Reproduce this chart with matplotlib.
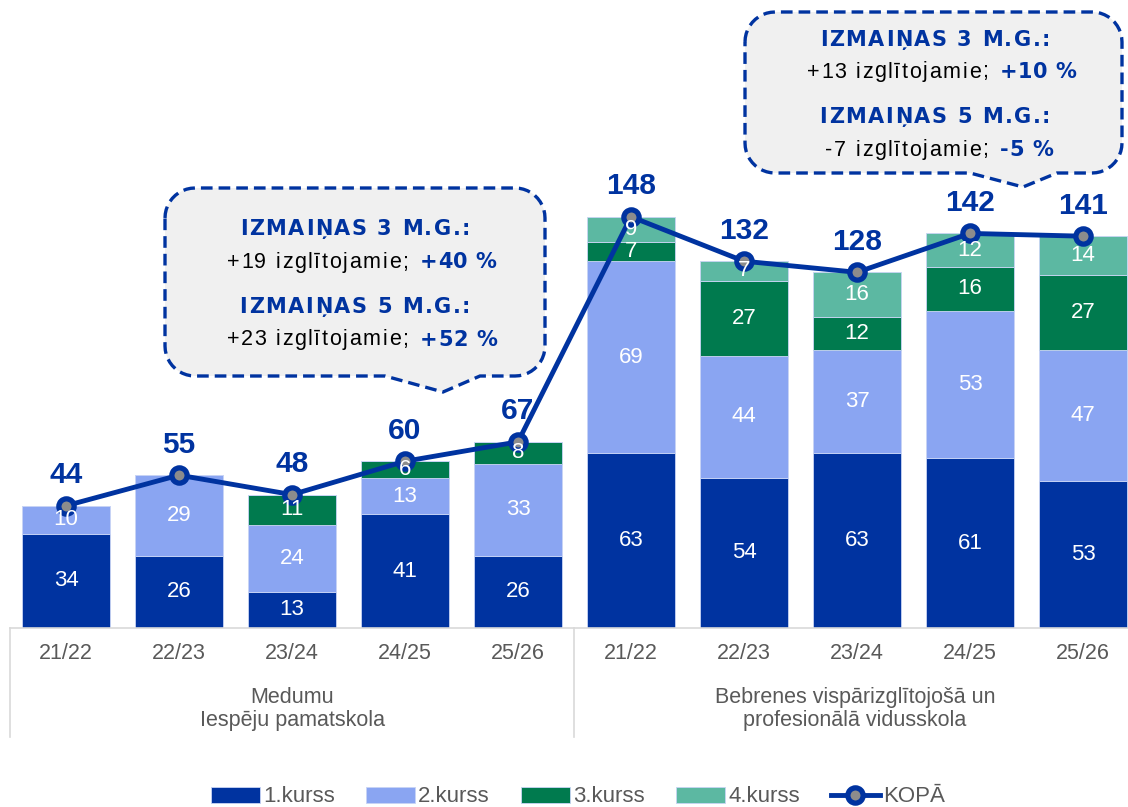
import matplotlib
matplotlib.use("Agg")
import matplotlib.pyplot as plt
import numpy as np
from matplotlib.path import Path
from matplotlib.patches import PathPatch
from matplotlib.lines import Line2D

# data
years = ["21/22", "22/23", "23/24", "24/25", "25/26"] * 2
schools = ["Medumu\nIespēju pamatskola", "Bebrenes vispārizglītojošā un\nprofesionālā vidusskola"]
kurss1 = [34, 26, 13, 41, 26, 63, 54, 63, 61, 53]
kurss2 = [10, 29, 24, 13, 33, 69, 44, 37, 53, 47]
kurss3 = [0, 0, 11, 6, 8, 7, 27, 12, 16, 27]
kurss4 = [0, 0, 0, 0, 0, 9, 7, 16, 12, 14]
kopa = [44, 55, 48, 60, 67, 148, 132, 128, 142, 141]
series_names = ["1.kurss", "2.kurss", "3.kurss", "4.kurss"]
colors = ["#0033A0", "#8AA5F2", "#007A4E", "#5CB8A2"]
line_col = "#0033A0"

W, H = 1128, 807
fig = plt.figure(figsize=(W / 100, H / 100), dpi=100)
renderer = fig.canvas.get_renderer()

def fx(px):
    return px / W

def fy(py):
    return 1 - py / H

ax = fig.add_axes([fx(9.5), fy(628), 1130 / W, 628 / H])
x = np.arange(len(years))
bw = 0.77
bottom = np.zeros(len(years))
for vals, name, c in zip([kurss1, kurss2, kurss3, kurss4], series_names, colors):
    vals = np.array(vals)
    ax.bar(x, vals, bw, bottom=bottom, color=c, edgecolor="#C8D4F5", linewidth=0.6, label=name, zorder=2)
    for xi, v, b in zip(x, vals, bottom):
        if v > 0:
            # labels sit on top of the line, like the original
            ax.text(xi, b + v / 2, str(v), ha="center", va="center", color="white", fontsize=16,
                    family="Liberation Sans", zorder=6)
    bottom += vals

ax.plot(x, kopa, color=line_col, lw=3.5, marker="o", markersize=11, markerfacecolor="#8C8C8C",
        markeredgecolor=line_col, markeredgewidth=3.8, zorder=4, label="KOPĀ")
for xi, v in zip(x, kopa):
    ax.annotate(str(v), (xi, v), xytext=(0, 12), textcoords="offset points", ha="center", va="bottom",
                color=line_col, fontsize=21.5, fontweight="bold", family="Liberation Sans", zorder=5)

ax.set_xlim(-0.5, 9.5)
ax.set_ylim(0, 226)
ax.set_yticks([])
ax.set_xticks(x)
ax.set_xticklabels(years, fontsize=15.5, color="#595959", family="Liberation Sans")
ax.tick_params(axis="x", length=0, pad=11)
for s in ["top", "right", "left"]:
    ax.spines[s].set_visible(False)
ax.spines["bottom"].set_color("#D9D9D9")
ax.spines["bottom"].set_linewidth(1.2)

# group separators
for px in [10, 574]:
    fig.add_artist(Line2D([fx(px), fx(px)], [fy(628), fy(737)], color="#D9D9D9", lw=1.2))
fig.text(fx(292), fy(709), schools[0], ha="center", va="center", fontsize=15.5, color="#595959",
         family="Liberation Sans", linespacing=1.15)
fig.text(fx(855), fy(709), schools[1], ha="center", va="center", fontsize=15.5, color="#595959",
         family="Liberation Sans", linespacing=1.15)

# callout boxes
def callout(x0, y0, x1, y1, r, pl, tip, pr):
    pts = []
    def arc(cx, cy, a0, a1):
        for a in np.linspace(a0, a1, 12):
            pts.append((cx + r * np.cos(a), cy + r * np.sin(a)))
    arc(x0 + r, y0 + r, np.pi, 1.5 * np.pi)
    arc(x1 - r, y0 + r, 1.5 * np.pi, 2 * np.pi)
    arc(x1 - r, y1 - r, 0, 0.5 * np.pi)
    pts.append((pr, y1))
    pts.append(tip)
    pts.append((pl, y1))
    arc(x0 + r, y1 - r, 0.5 * np.pi, np.pi)
    pts.append(pts[0])
    verts = [(fx(a), fy(b)) for a, b in pts]
    p = PathPatch(Path(verts), transform=fig.transFigure, facecolor="#F0F0F0", edgecolor="#0033A0",
                  lw=2.4, linestyle=(0, (3.5, 1.8)), zorder=10)
    fig.add_artist(p)

def width_of(s, **kw):
    t = fig.text(0, 0, s, **kw)
    w = t.get_window_extent(renderer).width
    t.remove()
    return w

def spaced(xp, yp, s, ha, gap, **kw):
    # text with extra letter spacing, placed char by char
    sp = width_of("x x", **kw) - width_of("xx", **kw)
    ws = [sp if ch == " " else width_of(ch, **kw) for ch in s]
    total = sum(ws) + gap * (len(s) - 1)
    if ha == "center":
        start = xp - total / 2
    elif ha == "right":
        start = xp - total
    else:
        start = xp
    cur = start
    for ch, w in zip(s, ws):
        if ch != " ":
            fig.text(fx(cur), fy(yp), ch, ha="left", va="center", zorder=11, **kw)
        cur += w + gap

head_kw = dict(fontsize=15, fontweight="bold", color="#0033A0", family="DejaVu Sans")
body_kw = dict(fontsize=15.5, color="black", family="Liberation Sans")
pct_kw = dict(fontsize=15, fontweight="bold", color="#0033A0", family="DejaVu Sans")

def box_text(cx, ys, lines):
    for (head, left, right), (yh, yl) in zip(lines, ys):
        spaced(cx, yh, head, "center", 1.6, **head_kw)
        spaced(cx + 53, yl, left, "right", 1.6, **body_kw)
        spaced(cx + 65, yl, right, "left", 0.5, **pct_kw)

callout(165, 188, 545, 376, 30, 385, (443, 392), 480)
callout(745, 12, 1122, 173, 30, 970, (1023, 187), 1057)

box_text(355, [(229, 262), (307, 340)],
         [("IZMAIŅAS 3 M.G.:", "+19 izglītojamie;", "+40 %"),
          ("IZMAIŅAS 5 M.G.:", "+23 izglītojamie;", "+52 %")])
box_text(935, [(40, 72), (117, 150)],
         [("IZMAIŅAS 3 M.G.:", "+13 izglītojamie;", "+10 %"),
          ("IZMAIŅAS 5 M.G.:", "-7 izglītojamie;", "-5 %")])

handles, labels = ax.get_legend_handles_labels()
order = [1, 2, 3, 4, 0]
fig.legend([handles[i] for i in order], [labels[i] for i in order], loc="center",
           bbox_to_anchor=(fx(578), fy(797)), ncol=5, frameon=False,
           prop={"family": "Liberation Sans", "size": 16}, handlelength=2.2, handleheight=0.75,
           columnspacing=1.4, handletextpad=0.15, labelcolor="#595959")

fig.savefig("out.png", dpi=100)
